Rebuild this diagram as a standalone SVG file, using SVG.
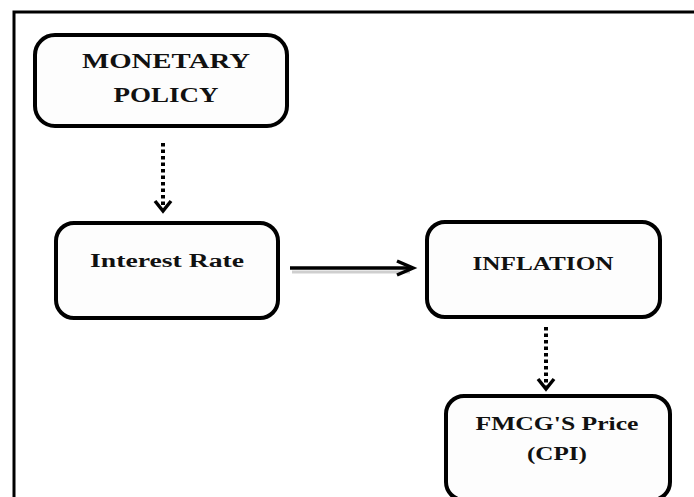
<svg xmlns="http://www.w3.org/2000/svg" width="694" height="497" viewBox="0 0 694 497">
<defs>
<style>
.frame{fill:none;stroke:#000;stroke-width:3}
.box{fill:#fdfdfd;stroke:#000;stroke-width:4}
.t{font-family:"Liberation Serif","DejaVu Serif",serif;font-weight:bold;fill:#111;text-anchor:middle}
.dot{fill:none;stroke:#000;stroke-width:4;stroke-dasharray:3.5 3}
.solid{fill:none;stroke:#000;stroke-width:3.5}
.head{fill:none;stroke:#000;stroke-width:3.5;stroke-linejoin:miter;stroke-linecap:butt}
.shadow{fill:none;stroke:#bbb;stroke-width:3;opacity:0.7}
</style>
</defs>
<rect width="694" height="497" fill="#fff"/>
<rect class="frame" x="14" y="12" width="700" height="500"/>
<g id="connectors">
<line class="shadow" x1="292" y1="272" x2="410" y2="272"/>
<line class="dot" x1="163" y1="143" x2="163" y2="208"/>
<polyline class="head" points="155,201 163,211 171,201"/>
<line class="solid" x1="290" y1="268" x2="413" y2="268"/>
<polyline class="head" points="397,261 413,268 397,275"/>
<line class="dot" x1="546" y1="327" x2="546" y2="386"/>
<polyline class="head" points="538,379 546,389 554,379"/>
</g>
<g id="monetary-policy">
<rect class="box" x="35" y="35" width="252" height="91" rx="20"/>
<text class="t" x="166" y="68" font-size="20" textLength="168" lengthAdjust="spacingAndGlyphs">MONETARY</text>
<text class="t" x="166" y="102" font-size="20" textLength="105" lengthAdjust="spacingAndGlyphs">POLICY</text>
</g>
<g id="interest-rate">
<rect class="box" x="56" y="223" width="222" height="95" rx="18"/>
<text class="t" x="167" y="267" font-size="18" textLength="154" lengthAdjust="spacingAndGlyphs">Interest Rate</text>
</g>
<g id="inflation">
<rect class="box" x="427" y="222" width="233" height="95" rx="18"/>
<text class="t" x="543" y="270" font-size="18" textLength="141" lengthAdjust="spacingAndGlyphs">INFLATION</text>
</g>
<g id="fmcg-price">
<rect class="box" x="446" y="396" width="224" height="104" rx="18"/>
<text class="t" x="557" y="430" font-size="18" textLength="163" lengthAdjust="spacingAndGlyphs">FMCG'S Price</text>
<text class="t" x="557" y="460" font-size="18" textLength="60" lengthAdjust="spacingAndGlyphs">(CPI)</text>
</g>
</svg>
